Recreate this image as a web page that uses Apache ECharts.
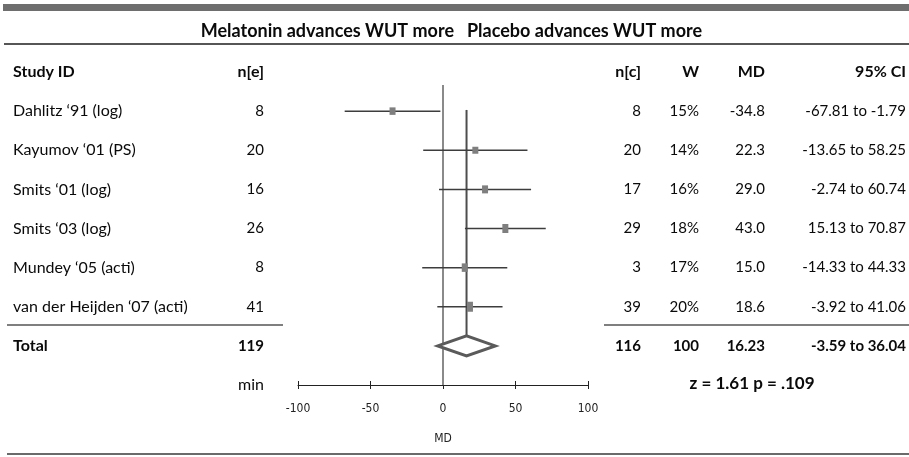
<!DOCTYPE html>
<html>
<head>
<meta charset="utf-8">
<script src="https://cdn.jsdelivr.net/npm/echarts@6/dist/echarts.min.js"></script>
<style>
  html, body { margin: 0; padding: 0; background: #ffffff; }
  #chart { width: 909px; height: 457px; }
</style>
</head>
<body>
<div id="chart"></div>
<script>
// Study-level data
const studies = ['Dahlitz \u201891 (log)', 'Kayumov \u201801 (PS)', 'Smits \u201801 (log)',
                 'Smits \u201803 (log)', 'Mundey \u201805 (acti)', 'van der Heijden \u201807 (acti)'];
const nE = [8, 20, 16, 26, 8, 41];
const nC = [8, 20, 17, 29, 3, 39];
const weights = [15, 14, 16, 18, 17, 20];
const md = [-34.8, 22.3, 29.0, 43.0, 15.0, 18.6];
const ciLow = [-67.81, -13.65, -2.74, 15.13, -14.33, -3.92];
const ciHigh = [-1.79, 58.25, 60.74, 70.87, 44.33, 41.06];

// Pooled estimate
const totalNE = 119;
const totalNC = 116;
const totalW = 100;
const totalMD = 16.23;
const totalLow = -3.59;
const totalHigh = 36.04;
const zText = 'z = 1.61 p = .109';

// Axis ticks
const xTicks = [-100, -50, 0, 50, 100];
const xMin = xTicks[0], xMax = xTicks[xTicks.length - 1], xStep = 50;

const FONT = 'Lato, "Noto Sans", sans-serif';
const NARROW = '"Liberation Sans Narrow", "DejaVu Sans Condensed", sans-serif';
const TXT = '#0a0a0a';

// Table column anchors (pixel x), alignment and font size
const cols = [
  { key: 'study', x: 13,  align: 'left',  size: 16 },
  { key: 'nE',    x: 264, align: 'right', size: 15 },
  { key: 'nC',    x: 641, align: 'right', size: 15 },
  { key: 'w',     x: 699, align: 'right', size: 15 },
  { key: 'md',    x: 765, align: 'right', size: 15 },
  { key: 'ci',    x: 906, align: 'right', size: 15 }
];

// Rows of the table: row index on the hidden y axis, cell texts, bold flag
const tableRows = [];
tableRows.push({ row: -1, bold: true, header: true,
  cells: { study: 'Study ID', nE: 'n[e]', nC: 'n[c]', w: 'W', md: 'MD', ci: '95% CI' } });
studies.forEach((s, i) => tableRows.push({ row: i, bold: false, cells: {
  study: s, nE: String(nE[i]), nC: String(nC[i]), w: weights[i] + '%',
  md: md[i].toFixed(1), ci: ciLow[i].toFixed(2) + ' to ' + ciHigh[i].toFixed(2) } }));
tableRows.push({ row: studies.length, bold: true, cells: {
  study: 'Total', nE: String(totalNE), nC: String(totalNC), w: String(totalW),
  md: totalMD.toFixed(2), ci: totalLow.toFixed(2) + ' to ' + totalHigh.toFixed(2) } });

const axisRow = studies.length + 1;

const chart = echarts.init(document.getElementById('chart'), null, { renderer: 'canvas' });

function textEl(x, y, text, align, bold, size, family) {
  return {
    type: 'text', x: x, y: y, silent: true,
    style: {
      text: text, fill: TXT, align: align, verticalAlign: 'middle',
      fontSize: size || 15, fontFamily: family || FONT, fontWeight: bold ? 'bold' : 'normal'
    }
  };
}

const option = {
  animation: false,
  backgroundColor: '#ffffff',
  grid: { left: 298, right: 321, top: 72, bottom: 72, containLabel: false },
  xAxis: [{
    type: 'value', min: xMin, max: xMax, interval: xStep, position: 'bottom',
    name: 'MD', nameLocation: 'middle', nameGap: 48,
    nameTextStyle: { fontFamily: NARROW, fontSize: 12, color: '#222' },
    axisLine: { show: true, onZero: false, lineStyle: { color: '#222', width: 1 } },
    axisTick: { show: true, length: 4, lineStyle: { color: '#222' } },
    axisLabel: { fontFamily: NARROW, fontSize: 12, color: '#222', margin: 18 },
    splitLine: { show: false }
  }, {
    type: 'value', min: xMin, max: xMax, interval: xStep, position: 'bottom',
    axisLine: { show: false, onZero: false },
    axisTick: { show: true, inside: true, length: 4, lineStyle: { color: '#222' } },
    axisLabel: { show: false },
    splitLine: { show: false }
  }],
  yAxis: {
    type: 'value', min: -1, max: axisRow, inverse: true, show: false,
    splitLine: { show: false }
  },
  series: [
    // line of no effect
    {
      type: 'line', xAxisIndex: 0, symbol: 'none', silent: true,
      lineStyle: { color: '#8a8a8a', width: 2 },
      data: [[0, -0.67], [0, axisRow]], z: 1
    },
    // pooled estimate line
    {
      type: 'line', xAxisIndex: 0, symbol: 'none', silent: true,
      lineStyle: { color: '#4d4d4d', width: 2 },
      data: [[totalMD, -0.03], [totalMD, studies.length - 0.27]], z: 1
    },
    // confidence intervals and weighted squares
    {
      type: 'custom', xAxisIndex: 0, silent: true, z: 3,
      data: studies.map((s, i) => [ciLow[i], ciHigh[i], md[i], weights[i], i]),
      encode: { x: [0, 1, 2], y: 4 },
      renderItem: function (params, api) {
        const row = api.value(4);
        const a = api.coord([api.value(0), row]);
        const b = api.coord([api.value(1), row]);
        const c = api.coord([api.value(2), row]);
        const h = api.value(3) * 0.5;
        const w = 6;
        return {
          type: 'group', children: [
            { type: 'line', shape: { x1: a[0], y1: a[1], x2: b[0], y2: b[1] },
              style: { stroke: '#3d3d3d', lineWidth: 1.5 } },
            { type: 'rect', shape: { x: c[0] - w / 2, y: c[1] - h / 2, width: w, height: h },
              style: { fill: '#7f7f7f' } }
          ]
        };
      }
    },
    // pooled diamond
    {
      type: 'custom', xAxisIndex: 0, silent: true, z: 4,
      data: [[totalLow, totalMD, totalHigh, studies.length]],
      encode: { x: [0, 1, 2], y: 3 },
      renderItem: function (params, api) {
        const row = api.value(3);
        const l = api.coord([api.value(0), row]);
        const m = api.coord([api.value(1), row]);
        const r = api.coord([api.value(2), row]);
        const hh = 10;
        return {
          type: 'polygon',
          shape: { points: [[l[0], l[1]], [m[0], m[1] - hh], [r[0], r[1]], [m[0], m[1] + hh]] },
          style: { fill: '#ffffff', stroke: '#5a5a5a', lineWidth: 3, lineJoin: 'miter' }
        };
      }
    },
    // table text
    {
      type: 'custom', xAxisIndex: 0, silent: true, clip: false, z: 5,
      data: tableRows.map(r => [0, r.row]),
      encode: { x: 0, y: 1 },
      renderItem: function (params, api) {
        const r = tableRows[params.dataIndex];
        const y = api.coord([0, api.value(1)])[1];
        return {
          type: 'group',
          children: cols.map(c => textEl(c.x, y, r.cells[c.key], c.align, r.bold,
            (r.header || c.key === 'study') ? 16 : c.size))
        };
      }
    },
    // footer row: unit and test statistic
    {
      type: 'custom', xAxisIndex: 0, silent: true, clip: false, z: 5,
      data: [[0, axisRow]],
      encode: { x: 0, y: 1 },
      renderItem: function (params, api) {
        const y = api.coord([0, api.value(1)])[1];
        return {
          type: 'group', children: [
            textEl(264, y, 'min', 'right', false, 16),
            textEl(752, y - 1, zText, 'center', true, 17)
          ]
        };
      }
    }
  ],
  graphic: [
    { type: 'rect', shape: { x: 3, y: 4, width: 906, height: 7 }, style: { fill: '#6e6e6e' }, silent: true },
    { type: 'text', x: 454, y: 31, silent: true,
      style: { text: 'Melatonin advances WUT more', align: 'right', verticalAlign: 'middle',
               fill: TXT, fontSize: 18, fontFamily: FONT, fontWeight: 'bold' } },
    { type: 'text', x: 467, y: 31, silent: true,
      style: { text: 'Placebo advances WUT more', align: 'left', verticalAlign: 'middle',
               fill: TXT, fontSize: 18, fontFamily: FONT, fontWeight: 'bold' } },
    { type: 'line', shape: { x1: 4, y1: 44, x2: 909, y2: 44 }, style: { stroke: '#1e1e1e', lineWidth: 1.5 }, silent: true },
    { type: 'line', shape: { x1: 7, y1: 325, x2: 283, y2: 325 }, style: { stroke: '#555555', lineWidth: 1.5 }, silent: true },
    { type: 'line', shape: { x1: 604, y1: 325, x2: 909, y2: 325 }, style: { stroke: '#555555', lineWidth: 1.5 }, silent: true },
    { type: 'line', shape: { x1: 7, y1: 454, x2: 909, y2: 454 }, style: { stroke: '#6a6a6a', lineWidth: 2 }, silent: true }
  ]
};

chart.setOption(option);
</script>
</body>
</html>
